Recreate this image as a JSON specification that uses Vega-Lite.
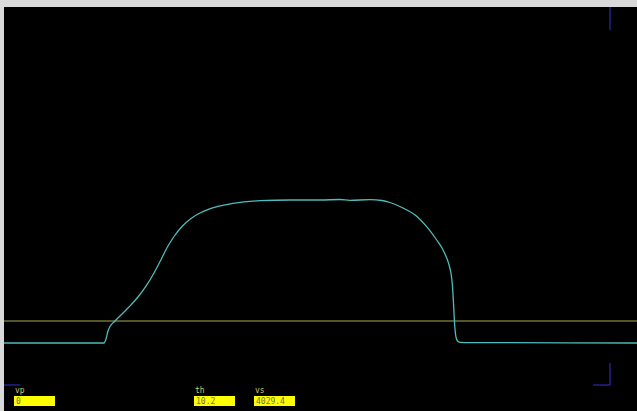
{
  "$schema": "https://vega.github.io/schema/vega-lite/v6.json",
  "width": 633,
  "height": 404,
  "autosize": {"type": "none"},
  "padding": {"left": 4, "top": 7, "right": 0, "bottom": 0},
  "background": "#d9d9d9",
  "config": {"view": {"fill": "#000000", "stroke": null}},
  "datasets": {
    "trace": [
      {"t": 0, "v": 68}, {"t": 100, "v": 68}, {"t": 102, "v": 72}, {"t": 104, "v": 80},
      {"t": 106, "v": 84.5}, {"t": 111, "v": 90}, {"t": 124, "v": 103}, {"t": 134, "v": 114},
      {"t": 142, "v": 124.8}, {"t": 150, "v": 138}, {"t": 157, "v": 151.3}, {"t": 163, "v": 163.3},
      {"t": 170, "v": 174.5}, {"t": 178, "v": 184.5}, {"t": 187, "v": 192.6}, {"t": 196, "v": 198},
      {"t": 205, "v": 201.8}, {"t": 215, "v": 204.8}, {"t": 229, "v": 207.6}, {"t": 256, "v": 210.3},
      {"t": 286, "v": 211}, {"t": 316, "v": 211}, {"t": 336, "v": 211.5}, {"t": 346, "v": 210.7},
      {"t": 366, "v": 211.3}, {"t": 378, "v": 210.5}, {"t": 386, "v": 208.5}, {"t": 399, "v": 203},
      {"t": 413, "v": 194.5}, {"t": 422.7, "v": 184.3}, {"t": 432.7, "v": 171}, {"t": 438, "v": 163},
      {"t": 441, "v": 157}, {"t": 443.5, "v": 151}, {"t": 445.5, "v": 144.5}, {"t": 447, "v": 137.5},
      {"t": 448.2, "v": 128}, {"t": 449, "v": 117}, {"t": 449.8, "v": 102}, {"t": 450.6, "v": 87},
      {"t": 451.5, "v": 77}, {"t": 452.5, "v": 72}, {"t": 454, "v": 69.5}, {"t": 456.5, "v": 68.6},
      {"t": 466, "v": 68.4}, {"t": 633, "v": 68}
    ],
    "threshold": [{"t": 0, "t2": 633, "v": 90}],
    "corners": [
      {"t": 606, "t2": 606, "v": 404, "v2": 381},
      {"t": 606, "t2": 606, "v": 48, "v2": 26},
      {"t": 589, "t2": 606, "v": 26, "v2": 26},
      {"t": 0, "t2": 16, "v": 26, "v2": 26}
    ],
    "fields": [
      {"name": "vp", "value": "0", "t": 10, "t2": 51},
      {"name": "th", "value": "10.2", "t": 190, "t2": 231},
      {"name": "vs", "value": "4029.4", "t": 250, "t2": 291}
    ]
  },
  "layer": [
    {
      "data": {"name": "corners"},
      "mark": {"type": "rule", "color": "#2b2bb0", "strokeWidth": 1.2},
      "encoding": {
        "x": {"field": "t", "type": "quantitative", "scale": {"domain": [0, 633], "nice": false, "zero": false}, "axis": null},
        "x2": {"field": "t2"},
        "y": {"field": "v", "type": "quantitative", "scale": {"domain": [0, 404], "nice": false, "zero": false}, "axis": null},
        "y2": {"field": "v2"}
      }
    },
    {
      "data": {"name": "threshold"},
      "mark": {"type": "rule", "color": "#a9a955", "strokeWidth": 1.2},
      "encoding": {
        "x": {"field": "t", "type": "quantitative"},
        "x2": {"field": "t2"},
        "y": {"field": "v", "type": "quantitative"}
      }
    },
    {
      "data": {"name": "trace"},
      "mark": {"type": "line", "color": "#4fbcbc", "strokeWidth": 1.3, "interpolate": "monotone"},
      "encoding": {
        "x": {"field": "t", "type": "quantitative"},
        "y": {"field": "v", "type": "quantitative"}
      }
    },
    {
      "data": {"name": "fields"},
      "mark": {"type": "rect", "fill": "#ffff00"},
      "encoding": {
        "x": {"field": "t", "type": "quantitative"},
        "x2": {"field": "t2"},
        "y": {"datum": 15, "type": "quantitative"},
        "y2": {"datum": 5}
      }
    },
    {
      "data": {"name": "fields"},
      "mark": {"type": "text", "align": "left", "baseline": "alphabetic", "font": "DejaVu Sans Mono", "fontSize": 8, "color": "#c8c870", "dx": 1},
      "encoding": {
        "x": {"field": "t", "type": "quantitative"},
        "y": {"datum": 18, "type": "quantitative"},
        "text": {"field": "name"}
      }
    },
    {
      "data": {"name": "fields"},
      "mark": {"type": "text", "align": "left", "baseline": "alphabetic", "font": "DejaVu Sans Mono", "fontSize": 8, "color": "#6e6e50", "dx": 2},
      "encoding": {
        "x": {"field": "t", "type": "quantitative"},
        "y": {"datum": 7, "type": "quantitative"},
        "text": {"field": "value"}
      }
    }
  ]
}
